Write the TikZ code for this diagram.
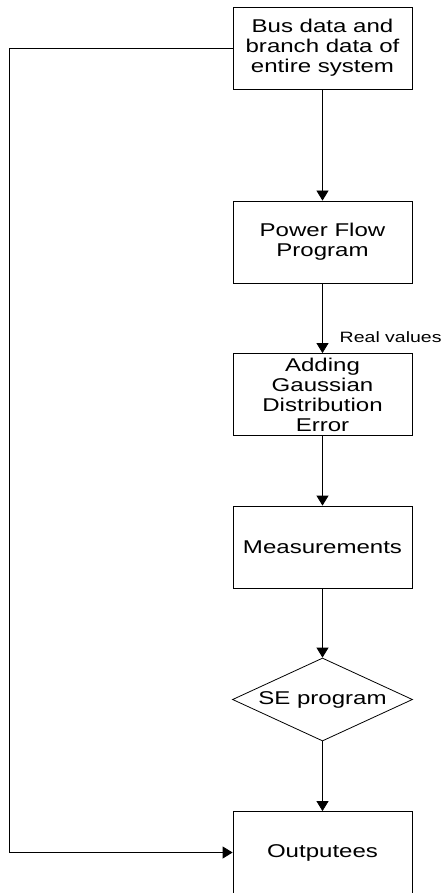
\documentclass[tikz,border=0pt]{standalone}
\usepackage{fontspec}
\setmainfont{Liberation Sans}[FakeStretch=1.3]
\usetikzlibrary{shapes.geometric,arrows.meta}

\begin{document}
\begin{tikzpicture}[x=1pt,y=-1pt,line width=0.8pt,>={Triangle[length=10pt,width=12pt]}]

      \useasboundingbox (0,0) rectangle (445,893);

      \begin{scope}[every node/.style={rectangle,draw,align=center,inner sep=0pt,
          minimum width=179pt,minimum height=82pt,font=\fontsize{18.5}{20}\selectfont}]
        \node (1) at (322.5,48)    {Bus data and\\branch data of\\entire system};
        \node (2) at (322.5,242)   {Power Flow\\Program};
        \node (3) at (322.5,394.5) {\fontsize{18.5}{18.5}\selectfont Adding\\Gaussian\\Distribution\\Error};
        \node (4) at (322.5,547)   {Measurements};
        \node (6) at (322.5,852.5) {Outputees};
      \end{scope}

      \node (5) [diamond,draw,inner sep=0pt,aspect=2.17,minimum width=180pt,minimum height=83pt,
        font=\fontsize{18.5}{20}\selectfont] at (322.5,699.5) {SE program};

      \coordinate (c) at (9,48);

      \begin{scope}[every edge/.style={draw,->}]
        \path (1) edge (2);
        \path (2) edge node[pos=0.77,anchor=west,xshift=13.5pt,
          font=\fontsize{15}{16}\selectfont] {Real values} (3);
        \path (3) edge (4);
        \path (4) edge (5);
        \path (5) edge (6);
      \end{scope}

      \draw[->] (1.west) -- (c) |- (6.west);

    \end{tikzpicture}
\end{document}
